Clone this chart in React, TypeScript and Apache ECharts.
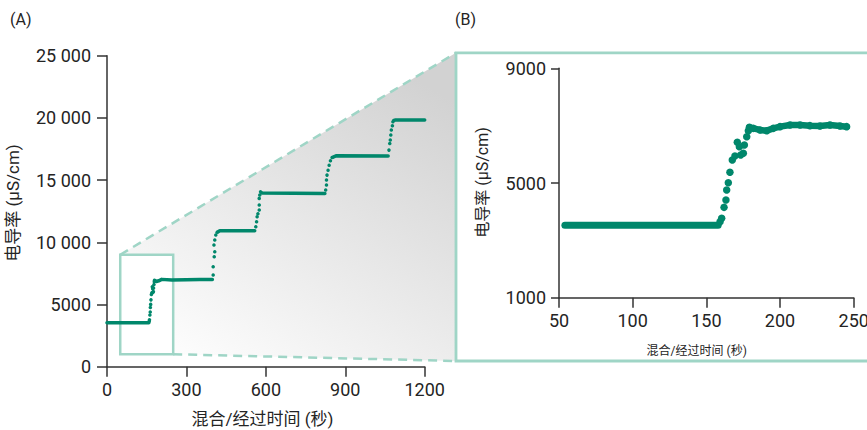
import React, { useEffect, useRef } from "react";
import * as echarts from "echarts";

// ---------- data ----------
// Panel A : conductivity (µS/cm) vs mixing / elapsed time (s)
const plateauA1: number[][] = [[0, 3530], [158, 3530]];
const riseA1: number[][] = [
  [159.3, 3650], [160.4, 3770], [162, 4150], [163.3, 4405], [163.8, 4755], [164.9, 5010],
  [166, 5373], [167.6, 5800], [169.4, 5940], [171, 6420], [172.4, 6265], [173.3, 5975],
  [175.1, 6035], [175.8, 6325], [177.4, 6615], [178.5, 6825],
];
const plateauA2: number[][] = [
  [179.2, 6940], [186.4, 6850], [195.4, 6905], [206.8, 7020], [245, 6965], [300, 6990], [350, 7000], [398, 7000],
];
const riseA2: number[][] = [
  [401, 7370], [401, 8040], [405, 8840], [407, 9240], [404, 9780], [407, 10180], [411, 10580], [416, 10800],
];
const plateauA3: number[][] = [[420, 10850], [426, 10930], [558, 10930]];
const riseA3: number[][] = [
  [562, 11250], [565, 11650], [567, 12050], [570, 12300], [575, 12590], [575, 12990], [575, 13530], [577, 13800],
];
const plateauA4: number[][] = [[580, 14060], [586, 13960], [823, 13930]];
const riseA4: number[][] = [
  [826, 14200], [829, 14600], [829, 15000], [831, 15400], [835, 15800], [839, 16200], [844, 16550], [850, 16820],
];
const plateauA5: number[][] = [[854, 16850], [867, 16960], [1062, 16930]];
const riseA5: number[][] = [
  [1065, 17410], [1068, 17950], [1070, 18220], [1072, 18620], [1074, 19020], [1078, 19370], [1080, 19690],
];
const plateauA6: number[][] = [[1083, 19800], [1090, 19830], [1200, 19830]];

// Panel B : zoom on 50–250 s
const flatB: number[][] = [[54, 3530], [158, 3530]];
const riseB: number[][] = riseA1;
const topB: number[][] = [
  [179.2, 6940], [181.9, 6905], [186.4, 6850], [191, 6825], [195.4, 6905], [200, 6965], [206.8, 7020],
  [213.6, 7020], [220.3, 7000], [227.1, 6990], [233.9, 7020], [240.7, 6990], [245.2, 6965],
];

// inset window shown in panel A (x range, y range)
const insetX = [50, 250];
const insetY = [1000, 9000];

// tick labels
const xTickValuesA = [0, 300, 600, 900, 1200];
const xTickLabelsA = ["0", "300", "600", "900", "1200"];
const yTickValuesA = [0, 5000, 10000, 15000, 20000, 25000];
const yTickLabelsA = ["0", "5000", "10 000", "15 000", "20 000", "25 000"];
const xTickValuesB = [50, 100, 150, 200, 250];
const xTickLabelsB = ["50", "100", "150", "200", "250"];
const yTickValuesB = [1000, 5000, 9000];
const yTickLabelsB = ["1000", "5000", "9000"];

const yNameText = "电导率 (µS/cm)";
const xNameText = "混合/经过时间 (秒)";

// ---------- styles ----------
const GREEN = "#00876b";
const FRAME = "#9fd5c6";
const AXIS = "#333333";
const TEXT = "#242424";
const FONT = 'Roboto, "Noto Sans CJK SC", sans-serif';

const axisCommon = {
  axisLine: { show: true, lineStyle: { color: AXIS, width: 1.5 } },
  axisTick: { show: true, length: 10, lineStyle: { color: AXIS, width: 1.5 } },
  splitLine: { show: false },
};

function fmt(values: number[], labels: string[]) {
  return (v: number) => {
    const i = values.indexOf(v);
    return i >= 0 ? labels[i] : String(v);
  };
}

function lineS(data: number[][], idx: number, w: number) {
  return {
    type: "line",
    xAxisIndex: idx,
    yAxisIndex: idx,
    data,
    symbol: "none",
    silent: true,
    z: 4,
    lineStyle: { color: GREEN, width: w, cap: "round", join: "round" },
  };
}
function dotS(data: number[][], idx: number, s: number) {
  return {
    type: "scatter",
    xAxisIndex: idx,
    yAxisIndex: idx,
    data,
    symbolSize: s,
    silent: true,
    z: 4,
    itemStyle: { color: GREEN, opacity: 1 },
  };
}

export default function App() {
  const ref = useRef<HTMLDivElement>(null);

  useEffect(() => {
    if (!ref.current) return;
    const chart = echarts.init(ref.current, null, { renderer: "svg" });

    const option: any = {
      animation: false,
      grid: [
        { left: 107, top: 55.7, width: 317.7, height: 311, containLabel: false, outerBoundsMode: "none" },
        { left: 559, top: 68.3, width: 294.7, height: 229.4, containLabel: false, outerBoundsMode: "none" },
      ],
      xAxis: [
        {
          type: "value", gridIndex: 0, min: 0, max: 1200, interval: 300, ...axisCommon,
          axisLabel: {
            fontSize: 18, color: TEXT, fontFamily: FONT, margin: 14, showMinLabel: true, showMaxLabel: true,
            formatter: fmt(xTickValuesA, xTickLabelsA),
          },
        },
        {
          type: "value", gridIndex: 1, min: 50, max: 250, interval: 50, ...axisCommon,
          axisLabel: {
            fontSize: 18, color: TEXT, fontFamily: FONT, margin: 14, showMinLabel: true, showMaxLabel: true,
            formatter: fmt(xTickValuesB, xTickLabelsB),
          },
        },
      ],
      yAxis: [
        {
          type: "value", gridIndex: 0, min: 0, max: 25000, interval: 5000, ...axisCommon,
          axisLabel: { fontSize: 18, color: TEXT, fontFamily: FONT, margin: 16, formatter: fmt(yTickValuesA, yTickLabelsA) },
        },
        {
          type: "value", gridIndex: 1, min: 1000, max: 9000, interval: 4000, ...axisCommon,
          axisTick: { show: true, length: 8, lineStyle: { color: AXIS, width: 1.5 } },
          axisLabel: { fontSize: 18, color: TEXT, fontFamily: FONT, margin: 13, formatter: fmt(yTickValuesB, yTickLabelsB) },
        },
      ],
      series: [
        lineS(plateauA1, 0, 3.5),
        dotS(riseA1, 0, 3.5),
        lineS(plateauA2, 0, 3.5),
        dotS(riseA2, 0, 3.5),
        lineS(plateauA3, 0, 3.5),
        dotS(riseA3, 0, 3.5),
        lineS(plateauA4, 0, 3.5),
        dotS(riseA4, 0, 3.5),
        lineS(plateauA5, 0, 3.5),
        dotS(riseA5, 0, 3.5),
        lineS(plateauA6, 0, 3.5),
        lineS(flatB, 1, 7),
        dotS(riseB, 1, 7.5),
        {
          ...lineS(topB, 1, 6.5),
          symbol: "circle",
          symbolSize: 7.5,
          showSymbol: true,
          itemStyle: { color: GREEN },
        },
      ],
    };
    chart.setOption(option);

    const tl = chart.convertToPixel({ gridIndex: 0 }, [insetX[0], insetY[1]]) as number[];
    const br = chart.convertToPixel({ gridIndex: 0 }, [insetX[1], insetY[0]]) as number[];
    const fL = 456, fT = 52.8, fB = 361;

    chart.setOption({
      graphic: {
        elements: [
          {
            type: "polygon",
            z: -10,
            silent: true,
            shape: { points: [[tl[0], tl[1]], [fL, fT], [fL, fB], [br[0], br[1]], [br[0], tl[1]]] },
            style: {
              fill: {
                type: "linear", x: 0.1, y: 1, x2: 0.75, y2: 0,
                colorStops: [
                  { offset: 0, color: "#ffffff" },
                  { offset: 1, color: "#d2d2d2" },
                ],
              },
            },
          },
          {
            type: "line", z: 1, silent: true,
            shape: { x1: tl[0], y1: tl[1], x2: fL, y2: fT },
            style: { stroke: FRAME, lineWidth: 2.5, lineDash: [9, 6] },
          },
          {
            type: "line", z: 1, silent: true,
            shape: { x1: br[0], y1: br[1], x2: fL, y2: fB },
            style: { stroke: FRAME, lineWidth: 2.5, lineDash: [9, 6] },
          },
          {
            type: "rect", z: 1, silent: true,
            shape: { x: tl[0], y: tl[1], width: br[0] - tl[0], height: br[1] - tl[1] },
            style: { fill: "none", stroke: FRAME, lineWidth: 2.5 },
          },
          {
            type: "rect", z: 1, silent: true,
            shape: { x: fL, y: fT, width: 520, height: fB - fT },
            style: { fill: "none", stroke: FRAME, lineWidth: 2.8 },
          },
          {
            type: "text", silent: true, x: 10, y: 19,
            style: { text: "(A)", fontSize: 16, fontFamily: FONT, fill: TEXT, align: "left", verticalAlign: "middle" },
          },
          {
            type: "text", silent: true, x: 455, y: 19,
            style: { text: "(B)", fontSize: 16, fontFamily: FONT, fill: TEXT, align: "left", verticalAlign: "middle" },
          },
          {
            type: "text", silent: true, x: 12.5, y: 203, rotation: Math.PI / 2,
            style: { text: yNameText, fontSize: 17, fontFamily: FONT, fill: TEXT, align: "center", verticalAlign: "middle" },
          },
          {
            type: "text", silent: true, x: 262.5, y: 419,
            style: { text: xNameText, fontSize: 17, fontFamily: FONT, fill: TEXT, align: "center", verticalAlign: "middle" },
          },
          {
            type: "text", silent: true, x: 482.7, y: 182.5, rotation: Math.PI / 2,
            style: { text: yNameText, fontSize: 16, fontFamily: FONT, fill: TEXT, align: "center", verticalAlign: "middle" },
          },
          {
            type: "text", silent: true, x: 696.7, y: 351,
            style: { text: xNameText, fontSize: 12, fontFamily: FONT, fill: TEXT, align: "center", verticalAlign: "middle" },
          },
        ],
      },
    });

    return () => chart.dispose();
  }, []);

  return (
    <div
      ref={ref}
      style={{ position: "fixed", left: 0, top: 0, width: 867, height: 430, background: "#ffffff" }}
    />
  );
}
